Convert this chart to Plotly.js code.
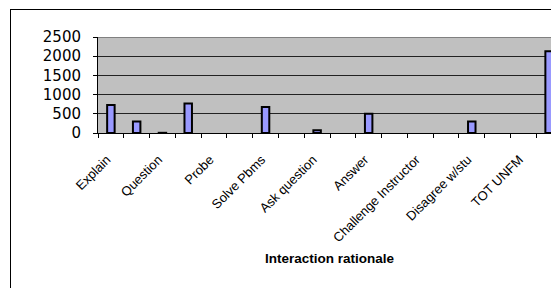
<!DOCTYPE html>
<html>
<head>
<meta charset="utf-8">
<script src="https://cdn.plot.ly/plotly-3.0.1.min.js"></script>
<style>
  html, body { margin: 0; padding: 0; background: #fff; overflow: hidden; }
  #frame { position: absolute; left: 10px; top: 9px; width: 700px; height: 400px;
           border-left: 1px solid #000; border-top: 1px solid #000; }
  #chart { position: absolute; left: 0; top: 0; }
</style>
</head>
<body>
<div id="frame"></div>
<div id="chart"></div>
<script>
// Category tick labels (shown on every other category slot)
const tickLabels = ["Explain", "Question", "Probe", "Solve Pbms", "Ask question",
                    "Answer", "Challenge Instructor", "Disagree w/stu", "TOT UNFM"];
// One value per category slot (18 slots); null = no bar
const values = [730, 300, 5, 765, null, null, 680, null, 70, null,
                500, null, null, null, 300, null, null, 2130];
const yTicks = [0, 500, 1000, 1500, 2000, 2500];
const xTitle = "Interaction rationale";

const xs = values.map((v, i) => i);
const labelPos = tickLabels.map((t, i) => i * 2);
const boundaries = values.map((v, i) => i - 0.5).concat([values.length - 0.5]);

const trace = {
  type: "bar",
  x: xs,
  y: values,
  width: 0.29,
  marker: { color: "#9999FF", line: { color: "#000000", width: 2 } },
  hoverinfo: "none"
};

const layout = {
  width: 600,
  height: 300,
  margin: { l: 98, r: 38, t: 37, b: 167 },
  paper_bgcolor: "rgba(0,0,0,0)",
  plot_bgcolor: "#C0C0C0",
  showlegend: false,
  bargap: 0,
  xaxis: {
    range: [-0.5, values.length - 0.5],
    tickmode: "array",
    tickvals: labelPos,
    ticktext: tickLabels,
    ticks: "",
    tickangle: -45,
    ticklabelstandoff: 13,
    ticklabelshift: -4,
    tickfont: { family: "Liberation Sans, Arial, sans-serif", size: 13, color: "#000" },
    showgrid: false,
    zeroline: false,
    showline: true,
    linecolor: "#000",
    linewidth: 1,
    minor: { tickmode: "array", tickvals: boundaries, ticks: "outside", ticklen: 4,
             tickcolor: "#000", tickwidth: 1, showgrid: false },
    fixedrange: true
  },
  yaxis: {
    range: [0, 2500],
    tickmode: "array",
    tickvals: yTicks,
    ticks: "outside",
    ticklen: 4,
    tickcolor: "#000",
    ticklabelstandoff: 9,
    tickfont: { family: "DejaVu Sans, Verdana, sans-serif", size: 15, color: "#000" },
    showgrid: true,
    gridcolor: "#222",
    gridwidth: 1,
    zeroline: false,
    showline: true,
    linecolor: "#000",
    linewidth: 1,
    fixedrange: true
  },
  shapes: [
    { type: "line", xref: "paper", yref: "y", x0: 0, x1: 1, y0: 2500, y1: 2500,
      line: { color: "#808080", width: 2 } }
  ],
  annotations: [
    { text: "<b>" + xTitle + "</b>", xref: "paper", yref: "paper", x: 0.5, y: -1.31,
      xanchor: "center", yanchor: "middle", showarrow: false,
      font: { family: "Liberation Sans, Arial, sans-serif", size: 13.5, color: "#000" } }
  ]
};

Plotly.newPlot("chart", [trace], layout, { displayModeBar: false, staticPlot: true });
</script>
</body>
</html>
